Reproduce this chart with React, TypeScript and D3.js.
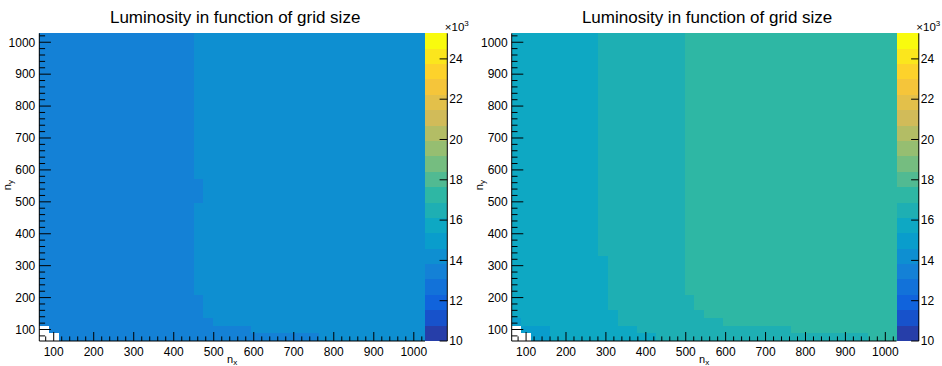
import * as d3 from "d3";

// histogram binning (nx and ny share the same binning)
const binRange = [64, 1028];
const nBins = 40;
// z axis (luminosity) range and number of contour levels
const zRange = [10000, 25270];
const nContours = 20;
const axisTicks = [100, 200, 300, 400, 500, 600, 700, 800, 900, 1000];
const zTicks = [10, 12, 14, 16, 18, 20, 22, 24];
const title = "Luminosity in function of grid size";

// luminosity per ny bin (bottom row first), run-length along nx: [bins, luminosity], 0 = empty
const lumLeft: [number, number][][] = [
  [[2, 0], [27, 13400], [11, 14200]],
  [[1, 0], [21, 13400], [18, 14200]],
  [[18, 13400], [22, 14200]],
  [[17, 13400], [23, 14200]],
  [[17, 13400], [23, 14200]],
  [[17, 13400], [23, 14200]],
  [[16, 13400], [24, 14200]],
  [[16, 13400], [24, 14200]],
  [[16, 13400], [24, 14200]],
  [[16, 13400], [24, 14200]],
  [[16, 13400], [24, 14200]],
  [[16, 13400], [24, 14200]],
  [[16, 13400], [24, 14200]],
  [[16, 13400], [24, 14200]],
  [[16, 13400], [24, 14200]],
  [[16, 13400], [24, 14200]],
  [[16, 13400], [24, 14200]],
  [[16, 13400], [24, 14200]],
  [[17, 13400], [23, 14200]],
  [[17, 13400], [23, 14200]],
  [[17, 13400], [23, 14200]],
  [[16, 13400], [24, 14200]],
  [[16, 13400], [24, 14200]],
  [[16, 13400], [24, 14200]],
  [[16, 13400], [24, 14200]],
  [[16, 13400], [24, 14200]],
  [[16, 13400], [24, 14200]],
  [[16, 13400], [24, 14200]],
  [[16, 13400], [24, 14200]],
  [[16, 13400], [24, 14200]],
  [[16, 13400], [24, 14200]],
  [[16, 13400], [24, 14200]],
  [[16, 13400], [24, 14200]],
  [[16, 13400], [24, 14200]],
  [[16, 13400], [24, 14200]],
  [[16, 13400], [24, 14200]],
  [[16, 13400], [24, 14200]],
  [[16, 13400], [24, 14200]],
  [[16, 13400], [24, 14200]],
  [[16, 13400], [24, 14200]],
];

const lumRight: [number, number][][] = [
  [[2, 0], [2, 15000], [11, 15700], [22, 16500], [3, 17200]],
  [[1, 0], [3, 15000], [9, 15700], [16, 16500], [11, 17200]],
  [[1, 15000], [10, 15700], [11, 16500], [18, 17200]],
  [[11, 15700], [9, 16500], [20, 17200]],
  [[10, 15700], [9, 16500], [21, 17200]],
  [[10, 15700], [9, 16500], [21, 17200]],
  [[10, 15700], [8, 16500], [22, 17200]],
  [[10, 15700], [8, 16500], [22, 17200]],
  [[10, 15700], [8, 16500], [22, 17200]],
  [[10, 15700], [8, 16500], [22, 17200]],
  [[10, 15700], [8, 16500], [22, 17200]],
  [[9, 15700], [9, 16500], [22, 17200]],
  [[9, 15700], [9, 16500], [22, 17200]],
  [[9, 15700], [9, 16500], [22, 17200]],
  [[9, 15700], [9, 16500], [22, 17200]],
  [[9, 15700], [9, 16500], [22, 17200]],
  [[9, 15700], [9, 16500], [22, 17200]],
  [[9, 15700], [9, 16500], [22, 17200]],
  [[9, 15700], [9, 16500], [22, 17200]],
  [[9, 15700], [9, 16500], [22, 17200]],
  [[9, 15700], [9, 16500], [22, 17200]],
  [[9, 15700], [9, 16500], [22, 17200]],
  [[9, 15700], [9, 16500], [22, 17200]],
  [[9, 15700], [9, 16500], [22, 17200]],
  [[9, 15700], [9, 16500], [22, 17200]],
  [[9, 15700], [9, 16500], [22, 17200]],
  [[9, 15700], [9, 16500], [22, 17200]],
  [[9, 15700], [9, 16500], [22, 17200]],
  [[9, 15700], [9, 16500], [22, 17200]],
  [[9, 15700], [9, 16500], [22, 17200]],
  [[9, 15700], [9, 16500], [22, 17200]],
  [[9, 15700], [9, 16500], [22, 17200]],
  [[9, 15700], [9, 16500], [22, 17200]],
  [[9, 15700], [9, 16500], [22, 17200]],
  [[9, 15700], [9, 16500], [22, 17200]],
  [[9, 15700], [9, 16500], [22, 17200]],
  [[9, 15700], [9, 16500], [22, 17200]],
  [[9, 15700], [9, 16500], [22, 17200]],
  [[9, 15700], [9, 16500], [22, 17200]],
  [[9, 15700], [9, 16500], [22, 17200]],
];

// ROOT kBird palette
const birdStops = [0, 0.125, 0.25, 0.375, 0.5, 0.625, 0.75, 0.875, 1];
const birdR = [0.2082, 0.0592, 0.078, 0.0232, 0.1802, 0.5301, 0.8186, 0.9956, 0.9764];
const birdG = [0.1664, 0.3599, 0.5041, 0.6419, 0.7178, 0.7492, 0.7328, 0.7862, 0.9832];
const birdB = [0.5293, 0.8684, 0.8385, 0.7914, 0.6425, 0.4662, 0.3499, 0.1968, 0.0539];

const bird = d3
  .scaleLinear<string>()
  .domain(birdStops)
  .range(birdStops.map((_, i) => d3.rgb(birdR[i] * 255, birdG[i] * 255, birdB[i] * 255).formatHex()))
  .interpolate(d3.interpolateRgb);

const levelColor = (lvl: number) => bird((lvl + 0.99) / nContours);
const zColor = (v: number) => {
  const lvl = Math.min(nContours - 1, Math.floor(((v - zRange[0]) / (zRange[1] - zRange[0])) * nContours));
  return levelColor(lvl);
};

const FONT = "'Liberation Sans', Arial, Helvetica, sans-serif";
const top = 33.3;
const bottom = 341;

const binEdges = d3.range(nBins + 1).map((k) => binRange[0] + (k * (binRange[1] - binRange[0])) / nBins);
const minorTicks = d3.range(80, 1028, 20).filter((v) => v % 100 !== 0);

function Panel({ x0, x1, rows }: { x0: number; x1: number; rows: [number, number][][] }) {
  const x = d3.scaleLinear().domain(binRange).range([x0, x1]);
  const y = d3.scaleLinear().domain(binRange).range([bottom, top]);
  const z = d3.scaleLinear().domain(zRange).range([bottom, top]);
  const cbL = x1 + 0.4;
  const cbR = x1 + 22.3;

  const cells: JSX.Element[] = [];
  rows.forEach((runs, r) => {
    let k = 0;
    runs.forEach(([n, v], j) => {
      if (v > 0) {
        cells.push(
          <rect
            key={`${r}-${j}`}
            x={x(binEdges[k])}
            y={y(binEdges[r + 1])}
            width={x(binEdges[k + n]) - x(binEdges[k])}
            height={y(binEdges[r]) - y(binEdges[r + 1])}
            fill={zColor(v)}
            shapeRendering="crispEdges"
          />
        );
      }
      k += n;
    });
  });

  const levels = d3.range(nContours);
  const dz = (zRange[1] - zRange[0]) / nContours;

  return (
    <g fontFamily={FONT}>
      <text x={(x0 + x1) / 2 + 3} y={23} fontSize={17} textAnchor="middle">
        {title}
      </text>
      {cells}
      {/* axes */}
      <line x1={x0} x2={x1} y1={bottom} y2={bottom} stroke="#000" />
      <line x1={x0} x2={x0} y1={top} y2={bottom} stroke="#000" />
      {axisTicks.map((t) => (
        <g key={"x" + t}>
          <line x1={x(t)} x2={x(t)} y1={bottom} y2={bottom - 9} stroke="#000" />
          <text x={x(t)} y={355.5} fontSize={12} textAnchor="middle">
            {t}
          </text>
          <line x1={x0} x2={x0 + 11.6} y1={y(t)} y2={y(t)} stroke="#000" />
          <text x={x0 - 4} y={y(t) + 4.3} fontSize={12} textAnchor="end">
            {t}
          </text>
        </g>
      ))}
      {minorTicks.map((t) => (
        <g key={"m" + t}>
          <line x1={x(t)} x2={x(t)} y1={bottom} y2={bottom - 4.6} stroke="#000" />
          <line x1={x0} x2={x0 + 5.8} y1={y(t)} y2={y(t)} stroke="#000" />
        </g>
      ))}
      <text x={(x0 + x1) / 2} y={362.5} fontSize={11} textAnchor="middle">
        n<tspan fontSize={8} dy={2}>x</tspan>
      </text>
      <text transform={`translate(${x0 - 28.5},${(top + bottom) / 2 - 2}) rotate(-90)`} fontSize={11} textAnchor="middle">
        n<tspan fontSize={8} dy={2}>y</tspan>
      </text>
      {/* palette */}
      {levels.map((l) => (
        <rect
          key={"c" + l}
          x={cbL}
          y={z(zRange[0] + (l + 1) * dz)}
          width={cbR - cbL}
          height={z(zRange[0] + l * dz) - z(zRange[0] + (l + 1) * dz)}
          fill={levelColor(l)}
          shapeRendering="crispEdges"
        />
      ))}
      <line x1={cbR} x2={cbR} y1={top} y2={bottom} stroke="#000" />
      {zTicks.map((t) => (
        <g key={"z" + t}>
          <line x1={cbR} x2={cbR - 7.7} y1={z(t * 1000)} y2={z(t * 1000)} stroke="#000" />
          <text x={cbR + 2} y={z(t * 1000) + 4.3} fontSize={12}>
            {t}
          </text>
        </g>
      ))}
      <text x={cbR - 2.5} y={31} fontSize={11.5}>
        ×10<tspan fontSize={8} dy={-5}>3</tspan>
      </text>
    </g>
  );
}

export default function App() {
  return (
    <svg width={942} height={366} style={{ position: "absolute", left: 0, top: 0, background: "#fff" }}>
      <Panel x0={39.3} x1={425} rows={lumLeft} />
      <Panel x0={511.7} x1={896.5} rows={lumRight} />
    </svg>
  );
}
